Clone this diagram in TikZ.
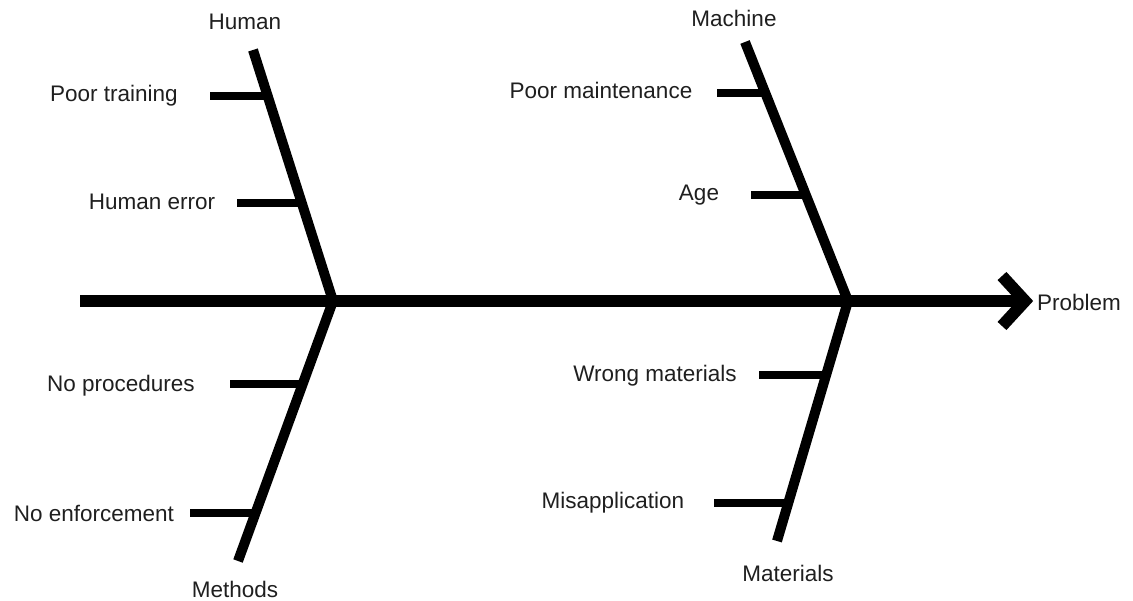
\documentclass[tikz,border=0pt]{standalone}
\usepackage{fontspec}
\setmainfont{Liberation Sans}
\usetikzlibrary{calc}
\tikzset{
  spine/.style={line width=12.5pt, line cap=butt},
  bone/.style={line width=10pt, line cap=butt},
  tick/.style={line width=8pt, line cap=butt},
  head/.style={line width=12pt, line join=miter, line cap=butt},
  lbl/.style={inner sep=0pt, anchor=base, font=\fontsize{22.5}{27}\selectfont, text=black!88}
}
\begin{document}
\begin{tikzpicture}[x=1pt, y=-1pt]
\useasboundingbox (0,0) rectangle (1133,601);

% main spine and its joints
\coordinate (tail) at (80,301);
\coordinate (J1) at (333,301);
\coordinate (J2) at (848,301);
\coordinate (tip) at (1025,301);
\coordinate (armU) at (1002,276);
\coordinate (armL) at (1002,326);

% outer ends of the four category bones
\coordinate (hTop) at (253,50);
\coordinate (mBot) at (238,561);
\coordinate (cTop) at (745,42);
\coordinate (tBot) at (777,541);

% spine with chevron head
\draw[spine] (tail) -- (tip);
\draw[head] (armU) -- (tip) -- (armL);
\node[lbl, anchor=base west] (problem) at (1037,311) {Problem};

% category bones
\draw[bone] (hTop) -- (J1);
\draw[bone] (J1) -- (mBot);
\draw[bone] (cTop) -- (J2);
\draw[bone] (J2) -- (tBot);

% category labels
\node[lbl] (human) at (245,30) {Human};
\node[lbl] (methods) at (235,597) {Methods};
\node[lbl] (machine) at (734,27) {Machine};
\node[lbl] (materials) at (788,581) {Materials};

% cause ticks: free end on the left, other end on the bone
\coordinate (s1) at (210,96);  \coordinate (e1) at ($(hTop)!0.183!(J1)$);
\coordinate (s2) at (237,203); \coordinate (e2) at ($(hTop)!0.610!(J1)$);
\coordinate (s3) at (230,384); \coordinate (e3) at ($(J1)!0.319!(mBot)$);
\coordinate (s4) at (190,513); \coordinate (e4) at ($(J1)!0.815!(mBot)$);
\coordinate (s5) at (717,93);  \coordinate (e5) at ($(cTop)!0.197!(J2)$);
\coordinate (s6) at (751,195); \coordinate (e6) at ($(cTop)!0.591!(J2)$);
\coordinate (s7) at (759,375); \coordinate (e7) at ($(J2)!0.308!(tBot)$);
\coordinate (s8) at (714,503); \coordinate (e8) at ($(J2)!0.842!(tBot)$);

\draw[tick] (s1) -- (s1 -| e1);
\draw[tick] (s2) -- (s2 -| e2);
\draw[tick] (s3) -- (s3 -| e3);
\draw[tick] (s4) -- (s4 -| e4);
\draw[tick] (s5) -- (s5 -| e5);
\draw[tick] (s6) -- (s6 -| e6);
\draw[tick] (s7) -- (s7 -| e7);
\draw[tick] (s8) -- (s8 -| e8);

% cause labels
\node[lbl] (c1) at (114,102) {Poor training};
\node[lbl] (c2) at (152,210) {Human error};
\node[lbl] (c3) at (121,392) {No procedures};
\node[lbl] (c4) at (94,521)  {No enforcement};
\node[lbl] (c5) at (601,99)  {Poor maintenance};
\node[lbl] (c6) at (699,201) {Age};
\node[lbl] (c7) at (655,382) {Wrong materials};
\node[lbl] (c8) at (613,508) {Misapplication};
\end{tikzpicture}
\end{document}
